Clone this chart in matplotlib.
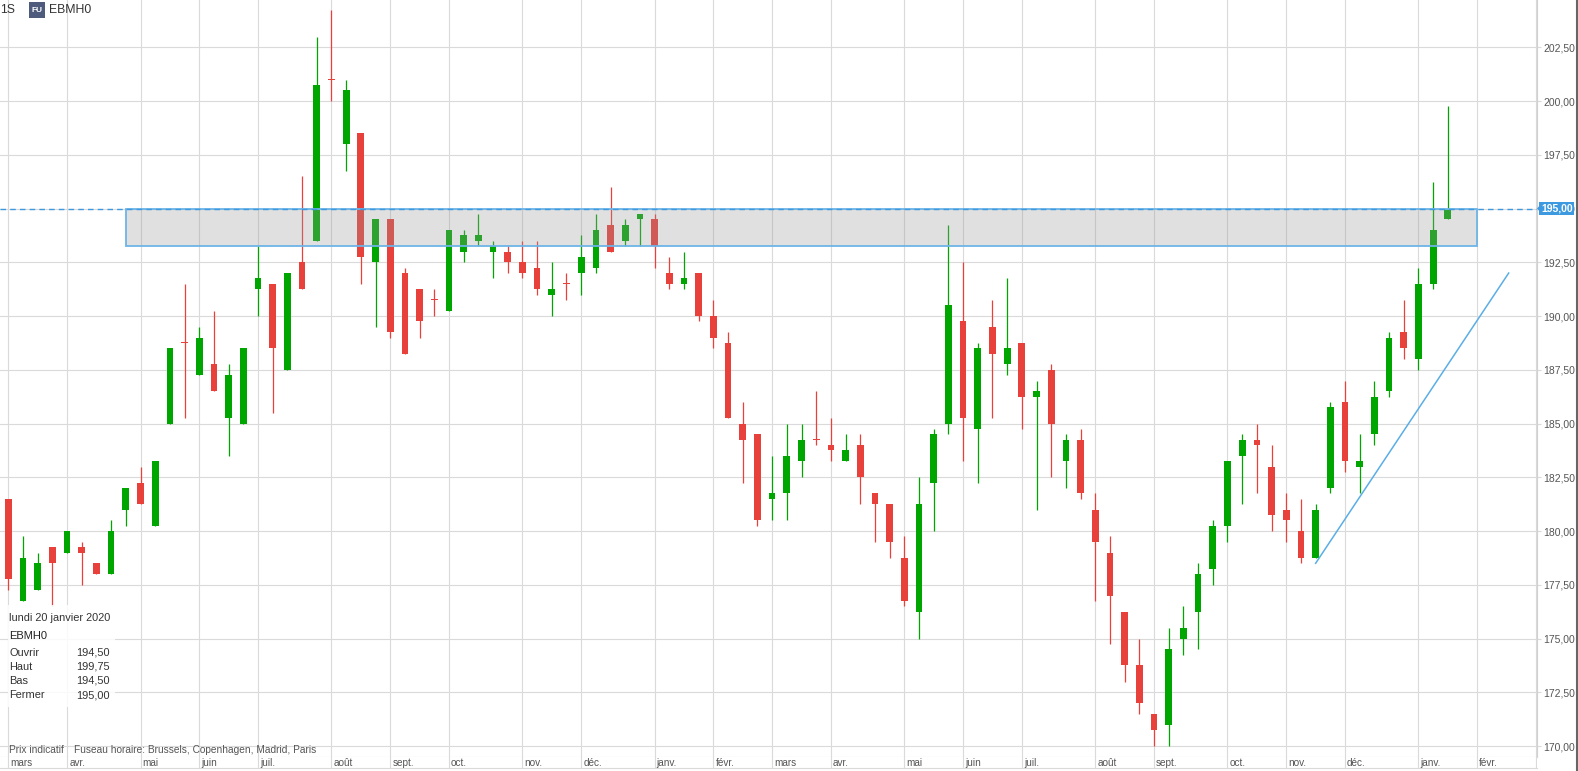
import numpy as np
import pandas as pd
import matplotlib
matplotlib.use("Agg")
import matplotlib.pyplot as plt
import matplotlib.dates as mdates
from matplotlib.patches import Rectangle, Polygon
from matplotlib.lines import Line2D

plt.rcParams['font.family'] = ['Liberation Sans', 'DejaVu Sans']

# weekly candles EBMH0, one per monday starting 2018-03-05
first_week = "2018-03-05"
opens = [181.5, 176.75, 177.25, 179.25, 179.0, 179.25, 178.5, 178.0, 181.0, 182.25,
         180.25, 185.0, 188.75, 187.25, 187.75, 185.25, 185.0, 191.25, 191.5, 187.5,
         192.5, 193.5, 201.0, 198.0, 198.5, 192.5, 194.5, 192.0, 191.25, 190.75,
         190.25, 193.0, 193.5, 193.0, 193.0, 192.5, 192.25, 191.0, 191.5, 192.0,
         192.25, 194.25, 193.5, 194.5, 194.5, 192.0, 191.5, 192.0, 190.0, 188.75,
         185.0, 184.5, 181.5, 181.75, 183.25, 184.25, 184.0, 183.25, 184.0, 181.75,
         181.25, 178.75, 176.25, 182.25, 185.0, 189.75, 184.75, 189.5, 187.75, 188.75,
         186.25, 187.5, 183.25, 184.25, 181.0, 179.0, 176.25, 173.75, 171.5, 171.0,
         175.0, 176.25, 178.25, 180.25, 183.5, 184.25, 183.0, 181.0, 180.0, 178.75,
         182.0, 186.0, 183.0, 184.5, 186.5, 189.25, 188.0, 191.5, 194.5]
highs = [181.5, 179.75, 179.0, 179.25, 180.0, 179.5, 178.5, 180.5, 182.0, 183.0,
         183.25, 188.5, 191.5, 189.5, 190.25, 187.75, 188.5, 193.25, 191.5, 192.0,
         196.5, 203.0, 204.25, 201.0, 198.5, 194.5, 194.5, 192.25, 191.25, 191.25,
         194.0, 194.0, 194.75, 193.5, 193.25, 193.5, 193.5, 192.5, 192.0, 193.75,
         194.75, 196.0, 194.5, 194.75, 194.75, 192.75, 193.0, 192.0, 190.75, 189.25,
         186.0, 184.5, 183.5, 185.0, 185.0, 186.5, 185.25, 184.5, 184.5, 181.75,
         181.25, 179.75, 182.5, 184.75, 194.25, 192.5, 188.75, 190.75, 191.75, 188.75,
         187.0, 187.75, 184.5, 184.75, 181.75, 179.75, 176.25, 175.0, 171.5, 175.5,
         176.5, 178.5, 180.5, 183.25, 184.5, 185.0, 184.0, 181.75, 181.5, 181.25,
         186.0, 187.0, 184.5, 187.0, 189.25, 190.75, 192.25, 196.25, 199.75]
lows = [177.25, 176.75, 177.25, 176.5, 179.0, 177.5, 178.0, 178.0, 180.25, 181.25,
        180.25, 185.0, 185.25, 187.25, 186.5, 183.5, 185.0, 190.0, 185.5, 187.5,
        191.25, 193.5, 200.0, 196.75, 191.5, 189.5, 189.0, 188.25, 189.0, 190.0,
        190.25, 192.5, 193.25, 191.75, 192.0, 191.75, 191.0, 190.0, 190.75, 191.0,
        192.0, 193.0, 193.25, 193.25, 192.25, 191.25, 191.25, 189.75, 188.5, 185.25,
        182.25, 180.25, 180.5, 180.5, 182.5, 184.0, 183.25, 183.25, 181.25, 179.5,
        178.75, 176.5, 175.0, 180.0, 184.5, 183.25, 182.25, 185.25, 187.25, 184.75,
        181.0, 182.5, 182.0, 181.5, 176.75, 174.75, 173.0, 171.5, 170.0, 170.0,
        174.25, 174.5, 177.5, 179.5, 181.25, 181.75, 180.0, 179.5, 178.5, 178.75,
        181.75, 182.75, 181.75, 184.0, 186.25, 188.0, 187.5, 191.25, 194.5]
closes = [177.75, 178.75, 178.5, 178.5, 180.0, 179.0, 178.0, 180.0, 182.0, 181.25,
          183.25, 188.5, 188.75, 189.0, 186.5, 187.25, 188.5, 191.75, 188.5, 192.0,
          191.25, 200.75, 201.0, 200.5, 192.75, 194.5, 189.25, 188.25, 189.75, 190.75,
          194.0, 193.75, 193.75, 193.25, 192.5, 192.0, 191.25, 191.25, 191.5, 192.75,
          194.0, 193.0, 194.25, 194.75, 193.25, 191.5, 191.75, 190.0, 189.0, 185.25,
          184.25, 180.5, 181.75, 183.5, 184.25, 184.25, 183.75, 183.75, 182.5, 181.25,
          179.5, 176.75, 181.25, 184.5, 190.5, 185.25, 188.5, 188.25, 188.5, 186.25,
          186.5, 185.0, 184.25, 181.75, 179.5, 177.0, 173.75, 172.0, 170.75, 174.5,
          175.5, 178.0, 180.25, 183.25, 184.25, 184.0, 180.75, 180.5, 178.75, 181.0,
          185.75, 183.25, 183.25, 186.25, 189.0, 188.5, 191.5, 194.0, 195.0]

# resistance zone + support trend line
zone_start, zone_end = "2018-04-30", "2020-02-03"
zone_low, zone_high = 193.25, 195.0
trend_dates = ["2019-11-18", "2020-02-18"]
trend_values = [178.5, 192.0]
last_price = 195.0

month_fr = {1: 'janv.', 2: 'févr.', 3: 'mars', 4: 'avr.', 5: 'mai', 6: 'juin',
            7: 'juil.', 8: 'août', 9: 'sept.', 10: 'oct.', 11: 'nov.', 12: 'déc.'}

green, red = '#00a600', '#e8403a'
gridc = '#dadada'
blue = '#3d9ae0'

weeks = pd.date_range(first_week, periods=len(opens), freq="W-MON")
x = mdates.date2num(weeks)
o, h, l, c = map(np.array, (opens, highs, lows, closes))
cols = np.where(c > o, green, red)

W, H = 1578, 771
fig = plt.figure(figsize=(W / 100, H / 100), dpi=100)
ax = fig.add_axes([0, 14 / H, 1537 / W, 757 / H])

wk = 7.0  # days per candle slot
ax.set_xlim(x[0] - 0.565 * wk, x[0] + 104.07 * wk)
ax.set_ylim(169.49, 204.70)

# grid
yt = np.arange(170, 203, 2.5)
for v in yt:
    ax.axhline(v, color=gridc, lw=0.8, zorder=0)
mondays = pd.date_range(first_week, "2020-03-31", freq="W-MON")
month_lines = [d for d in mondays if d.day <= 7]
mx = mdates.date2num(month_lines)
for xv in mx:
    ax.axvline(xv, color=gridc, lw=0.8, zorder=0)

# candles
ax.vlines(x, l, h, colors=cols, lw=0.9, zorder=2)
body = np.abs(c - o)
bh = np.maximum(body, 0.05)
bb = np.minimum(o, c) - (bh - body) / 2
ax.bar(x, bh, bottom=bb, width=3.2, color=cols, zorder=2, linewidth=0)

# zone box
z0, z1 = mdates.date2num(pd.to_datetime([zone_start, zone_end]))
ax.add_patch(Rectangle((z0, zone_low), z1 - z0, zone_high - zone_low,
                       facecolor='#999999', alpha=0.3, edgecolor='none', zorder=3))
ax.add_patch(Rectangle((z0, zone_low), z1 - z0, zone_high - zone_low,
                       facecolor='none', edgecolor='#6cb4e8', lw=1.3, zorder=3.5))

# trend line
ax.plot(mdates.date2num(pd.to_datetime(trend_dates)), trend_values,
        color='#5aaee6', lw=1.1, zorder=3)

# last price dashed line
ax.axhline(last_price, color=blue, lw=1.0, ls=(0, (4, 3)), zorder=4)

# axes styling
for s in ['top', 'left']:
    ax.spines[s].set_visible(False)
ax.spines['right'].set_color('#d0d0d0')
ax.spines['bottom'].set_color(gridc)
ax.set_xticks([])
ax.yaxis.tick_right()
ax.set_yticks(yt)
ax.set_yticklabels([f"{v:.2f}".replace('.', ',') for v in yt])
ax.tick_params(axis='y', length=3, color=gridc, pad=1.5, labelsize=7.5, labelcolor='#555555')

# month strip
ax2 = fig.add_axes([0, 3 / H, 1537 / W, 11 / H])
ax2.set_xlim(ax.get_xlim())
ax2.set_ylim(0, 1)
for xv, d in zip(mx, month_lines):
    ax2.axvline(xv, color=gridc, lw=0.8)
    if ax.get_xlim()[0] < xv < ax.get_xlim()[1] - 5:
        ax2.text(xv + 1.0, 0.45, month_fr[d.month], fontsize=7.2, color='#555555',
                 va='center', ha='left')
ax2.set_xticks([])
ax2.set_yticks([])
for s in ['top', 'left', 'right']:
    ax2.spines[s].set_visible(False)
ax2.spines['bottom'].set_color(gridc)

# price tag
fig.text(1541 / W, 1 - 208.5 / H, f"{last_price:.2f}".replace('.', ','), fontsize=7.5,
         color='white', fontweight='bold', va='center', ha='left',
         bbox=dict(boxstyle='square,pad=0.15', fc=blue, ec='none'))
fig.patches.append(Polygon([[1537 / W, 1 - 208.5 / H], [1541 / W, 1 - 204 / H],
                            [1541 / W, 1 - 213 / H]], closed=True,
                           transform=fig.transFigure, fc=blue, ec='none'))

# right border
fig.lines.append(Line2D([1576.5 / W, 1576.5 / W], [0, 1], transform=fig.transFigure,
                        color='#666666', lw=1.5))

# header
fig.text(0 / W, 1 - 10 / H, "1S", fontsize=8.8, color='#333333', va='center')
fig.patches.append(Rectangle((29 / W, 1 - 17.5 / H), 15.5 / W, 15 / H,
                             transform=fig.transFigure, fc='#4f5b7d', ec='none'))
fig.text(36.8 / W, 1 - 10 / H, "FU", fontsize=6, color='white', fontweight='bold',
         va='center', ha='center')
fig.text(49 / W, 1 - 10 / H, "EBMH0", fontsize=8.8, color='#333333', va='center')

# info box
fig.patches.append(Rectangle((8 / W, 1 - 707 / H), 107 / W, 102 / H,
                             transform=fig.transFigure, fc='white', alpha=0.85, ec='none'))
fig.text(9 / W, 1 - 618 / H, "lundi 20 janvier 2020", fontsize=7.9, color='#333333', va='center')
fig.text(9 / W, 1 - 636 / H, "EBMH0", fontsize=8, color='#222222', va='center')
info = [("Ouvrir", opens[-1]), ("Haut", highs[-1]), ("Bas", lows[-1]), ("Fermer", closes[-1])]
for k, (lab, val) in enumerate(info):
    yy = 1 - (652.5 + 14.2 * k) / H
    fig.text(9 / W, yy, lab, fontsize=7.9, color='#333333', va='center')
    fig.text(110 / W, yy, f"{val:.2f}".replace('.', ','), fontsize=7.9, color='#333333',
             va='center', ha='right')

fig.text(9 / W, 1 - 750 / H, "Prix indicatif", fontsize=7.3, color='#555555', va='center')
fig.text(74 / W, 1 - 750 / H, "Fuseau horaire: Brussels, Copenhagen, Madrid, Paris",
         fontsize=7.3, color='#555555', va='center')

fig.savefig("out.png", dpi=100)
